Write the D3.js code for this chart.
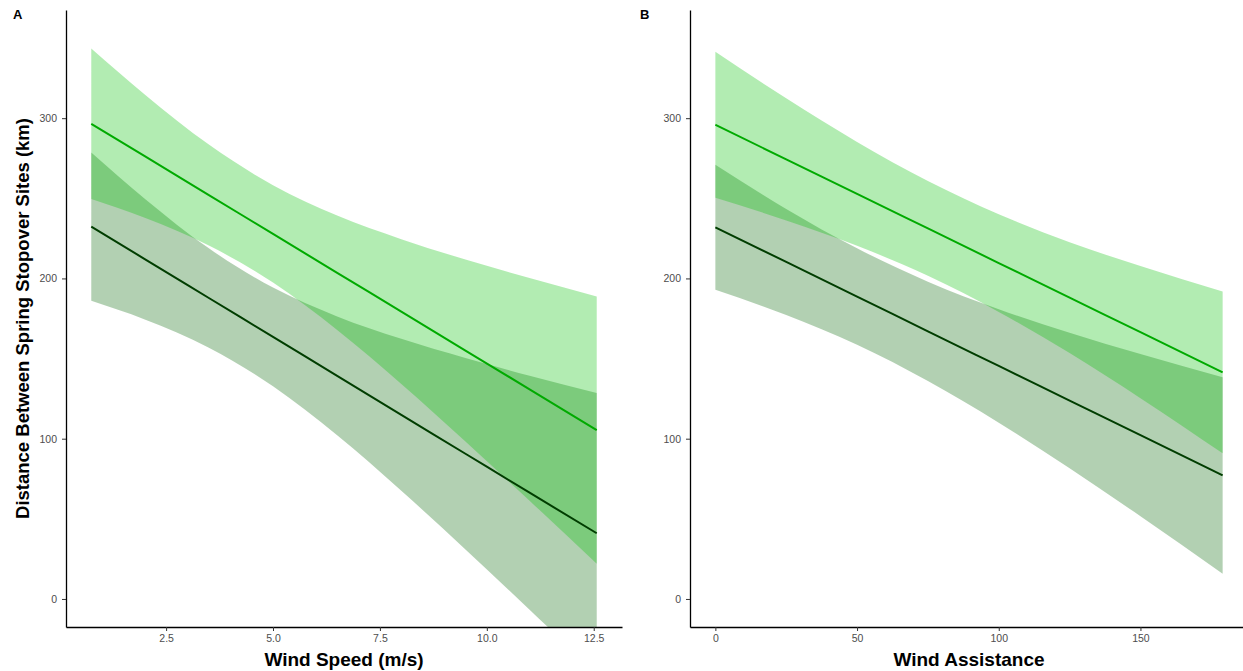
<!DOCTYPE html>
<html>
<head>
<meta charset="utf-8">
<script src="https://cdn.jsdelivr.net/npm/d3@7"></script>
<style>
body { margin: 0; background: #fff; }
svg { display: block; font-family: "Liberation Sans", Arial, sans-serif; }
.axis .domain { stroke: #000; stroke-width: 1.3; }
.axis .tick line { stroke: #333; stroke-width: 1; }
.axis .tick text { fill: #4d4d4d; font-size: 10.5px; }
</style>
</head>
<body>
<div id="chart"></div>
<script>
// ---- data ----
var yTicks = [0, 100, 200, 300];

// Panel A : wind speed (m/s)
var speedX = [0.75, 2, 3.5, 5, 6.5, 8, 9.5, 11, 12.57];
var speedTicks = [2.5, 5.0, 7.5, 10.0, 12.5];
var speedHighFit = [296.5, 276.3, 252.0, 227.8, 203.5, 179.3, 155.0, 130.8, 105.4];
var speedHighUpper = [343.5, 314.8, 283.5, 258.2, 239.2, 224.5, 211.8, 200.3, 188.8];
var speedHighLower = [249.5, 237.8, 220.5, 197.4, 167.8, 134.1, 98.2, 61.3, 22.0];
var speedLowFit = [232.3, 212.1, 187.8, 163.5, 139.2, 114.9, 90.6, 66.3, 41.0];
var speedLowUpper = [278.6, 249.8, 218.8, 194.3, 176.3, 162.3, 150.3, 139.3, 128.5];
var speedLowLower = [186.0, 174.4, 156.8, 132.7, 102.1, 67.5, 30.9, -6.7, -46.5];

// Panel B : wind assistance
var assistX = [0, 25, 50, 75, 100, 125, 150, 179];
var assistTicks = [0, 50, 100, 150];
var assistHighFit = [295.9, 274.3, 252.8, 231.2, 209.6, 188.0, 166.5, 141.4];
var assistHighUpper = [341.4, 312.4, 285.2, 260.8, 240.1, 222.6, 207.7, 191.9];
var assistHighLower = [250.4, 236.2, 220.4, 201.6, 179.1, 153.4, 125.3, 90.9];
var assistLowFit = [231.9, 210.3, 188.7, 167.0, 145.4, 123.8, 102.2, 77.1];
var assistLowUpper = [270.9, 243.4, 218.8, 198.0, 180.8, 166.1, 152.8, 138.4];
var assistLowLower = [192.9, 177.2, 158.6, 136.0, 110.0, 81.5, 51.6, 15.8];

// colours
var highLine = "#00aa00", lowLine = "#003d00";
var highFill = "#00c000", lowFill = "#006200";

var width = 1243, height = 671;
var plotTop = 10, plotBottom = 627;

var svg = d3.select("#chart")
    .append("svg")
        .attr("width", width)
        .attr("height", height);

var y = d3.scaleLinear().domain([-17.5, 367.5]).range([plotBottom, plotTop]);

function zip(xs, ys) {
    return xs.map(function(d, i) { return [d, ys[i]]; });
}

function drawPanel(p) {
    var x = d3.scaleLinear().domain(p.domain).range([p.left, p.right]);

    var clipId = "clip" + p.label;
    svg.append("clipPath")
        .attr("id", clipId)
      .append("rect")
        .attr("x", p.left)
        .attr("y", plotTop)
        .attr("width", p.right - p.left)
        .attr("height", plotBottom - plotTop);

    var g = svg.append("g").attr("clip-path", "url(#" + clipId + ")");

    var area = d3.area()
        .x(function(d) { return x(d[0]); })
        .y0(function(d) { return y(d[1]); })
        .y1(function(d) { return y(d[2]); })
        .curve(d3.curveMonotoneX);

    var line = d3.line()
        .x(function(d) { return x(d[0]); })
        .y(function(d) { return y(d[1]); })
        .curve(d3.curveMonotoneX);

    // confidence ribbons
    g.append("path")
        .datum(p.xs.map(function(d, i) { return [d, p.lowLower[i], p.lowUpper[i]]; }))
        .attr("d", area)
        .attr("fill", lowFill)
        .attr("fill-opacity", 0.3);

    g.append("path")
        .datum(p.xs.map(function(d, i) { return [d, p.highLower[i], p.highUpper[i]]; }))
        .attr("d", area)
        .attr("fill", highFill)
        .attr("fill-opacity", 0.3);

    // fitted lines
    g.append("path")
        .datum(zip(p.xs, p.highFit))
        .attr("d", line)
        .attr("fill", "none")
        .attr("stroke", highLine)
        .attr("stroke-width", 2);

    g.append("path")
        .datum(zip(p.xs, p.lowFit))
        .attr("d", line)
        .attr("fill", "none")
        .attr("stroke", lowLine)
        .attr("stroke-width", 2);

    // axes
    svg.append("g")
        .attr("class", "axis")
        .attr("transform", "translate(0," + plotBottom + ")")
        .call(d3.axisBottom(x).tickValues(p.ticks).tickFormat(p.format)
            .tickSize(4).tickSizeOuter(0).tickPadding(4));

    svg.append("g")
        .attr("class", "axis")
        .attr("transform", "translate(" + p.left + ",0)")
        .call(d3.axisLeft(y).tickValues(yTicks).tickFormat(d3.format("d"))
            .tickSize(4).tickSizeOuter(0).tickPadding(5));

    // panel letter
    svg.append("text")
        .attr("x", p.letterX)
        .attr("y", 19)
        .attr("font-size", "13px")
        .attr("font-weight", "bold")
        .text(p.label);

    // x title
    svg.append("text")
        .attr("x", (p.left + p.right) / 2)
        .attr("y", 666)
        .attr("text-anchor", "middle")
        .attr("font-size", "19px")
        .attr("font-weight", "bold")
        .text(p.title);
}

drawPanel({
    label: "A", letterX: 13, left: 66, right: 622, domain: [0.159, 13.161],
    xs: speedX, ticks: speedTicks, format: d3.format(".1f"),
    highFit: speedHighFit, highUpper: speedHighUpper, highLower: speedHighLower,
    lowFit: speedLowFit, lowUpper: speedLowUpper, lowLower: speedLowLower,
    title: "Wind Speed (m/s)"
});

drawPanel({
    label: "B", letterX: 640, left: 690, right: 1248, domain: [-8.95, 187.95],
    xs: assistX, ticks: assistTicks, format: d3.format("d"),
    highFit: assistHighFit, highUpper: assistHighUpper, highLower: assistHighLower,
    lowFit: assistLowFit, lowUpper: assistLowUpper, lowLower: assistLowLower,
    title: "Wind Assistance"
});

// shared y title
svg.append("text")
    .attr("transform", "translate(29," + (plotTop + plotBottom) / 2 + ") rotate(-90)")
    .attr("text-anchor", "middle")
    .attr("font-size", "18.5px")
    .attr("font-weight", "bold")
    .text("Distance Between Spring Stopover Sites (km)");
</script>
</body>
</html>
